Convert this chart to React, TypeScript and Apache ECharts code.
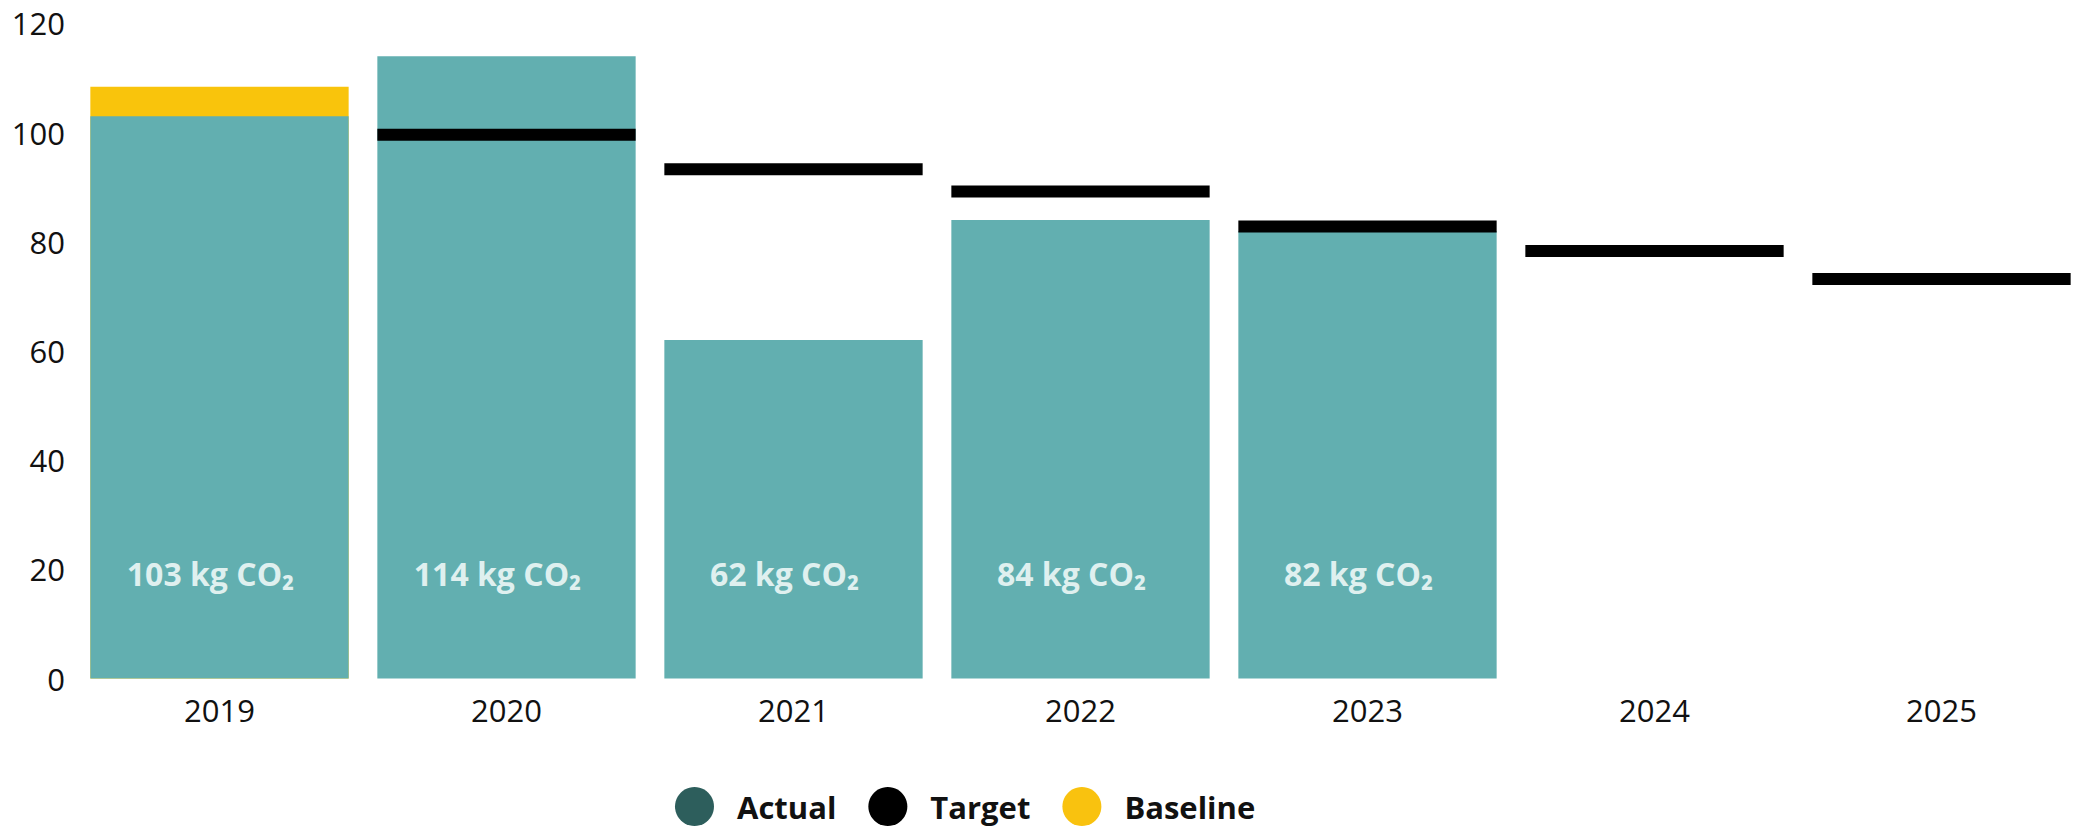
import React, { useEffect, useRef } from "react";
import * as echarts from "echarts";

const years = ["2019", "2020", "2021", "2022", "2023", "2024", "2025"];
const actual = [103, 114, 62, 84, 82, null, null];
const target = [null, 99.6, 93.3, 89.2, 82.8, 78.3, 73.2];
const baseline = [108.4, null, null, null, null, null, null];
const yTicks = [0, 20, 40, 60, 80, 100, 120];

const FONT = "'Open Sans', 'Noto Sans', sans-serif";

export default function App() {
  const ref = useRef<HTMLDivElement>(null);
  useEffect(() => {
    if (!ref.current) return;
    const chart = echarts.init(ref.current, undefined, { renderer: "svg" });
    const targetData = target
      .map((v, i) => (v == null ? null : [i, v]))
      .filter((d) => d !== null);
    chart.setOption({
      animation: false,
      textStyle: { fontFamily: FONT },
      grid: {
        left: 76,
        top: 23.4,
        width: 2009,
        height: 655.2,
        containLabel: false,
        outerBoundsMode: "none",
      },
      legend: {
        left: 670,
        top: 782,
        icon: "circle",
        itemWidth: 39,
        itemHeight: 39,
        itemGap: 32,
        textStyle: {
          fontFamily: FONT,
          fontSize: 31,
          lineHeight: 34,
          fontWeight: "bold",
          color: "#111",
          padding: [0, 0, 0, 18],
        },
        data: [
          { name: "Actual", itemStyle: { color: "#2d5e5c" } },
          { name: "Target", itemStyle: { color: "#000000" } },
          { name: "Baseline", itemStyle: { color: "#f9c20f" } },
        ],
      },
      xAxis: {
        type: "category",
        data: years,
        axisLine: { show: false },
        axisTick: { show: false },
        axisLabel: { fontFamily: FONT, fontSize: 31, color: "#111", margin: 16 },
      },
      yAxis: {
        type: "value",
        min: 0,
        max: 120,
        interval: 20,
        splitLine: { show: false },
        axisLine: { show: false },
        axisTick: { show: false },
        axisLabel: {
          fontFamily: FONT,
          fontSize: 31,
          color: "#111",
          margin: 11,
          formatter: (v: number) => (yTicks.includes(v) ? String(v) : ""),
        },
      },
      series: [
        {
          name: "Baseline",
          type: "bar",
          data: baseline,
          barCategoryGap: "10%",
          barGap: "-100%",
          z: 1,
          itemStyle: { color: "#f9c40c" },
        },
        {
          name: "Actual",
          type: "bar",
          data: actual,
          barCategoryGap: "10%",
          barGap: "-100%",
          z: 2,
          itemStyle: { color: "#62afb0" },
          label: {
            show: true,
            position: "insideBottom",
            distance: 89,
            offset: [-9, 0],
            fontFamily: FONT,
            fontSize: 32,
            fontWeight: "bold",
            color: "#dff0ef",
            formatter: (p: any) => `${p.value} kg CO₂`,
          },
        },
        {
          name: "Target",
          type: "custom",
          z: 3,
          data: targetData,
          renderItem: (params: any, api: any) => {
            const c = api.coord([api.value(0), api.value(1)]);
            const w = api.size([1, 0])[0] * 0.9;
            return {
              type: "rect",
              shape: { x: c[0] - w / 2, y: c[1] - 6, width: w, height: 12 },
              style: { fill: "#000" },
            };
          },
        },
      ],
    });
    return () => chart.dispose();
  }, []);
  return (
    <div
      ref={ref}
      style={{ position: "fixed", left: 0, top: 0, width: 2074, height: 827, background: "#fff" }}
    />
  );
}
